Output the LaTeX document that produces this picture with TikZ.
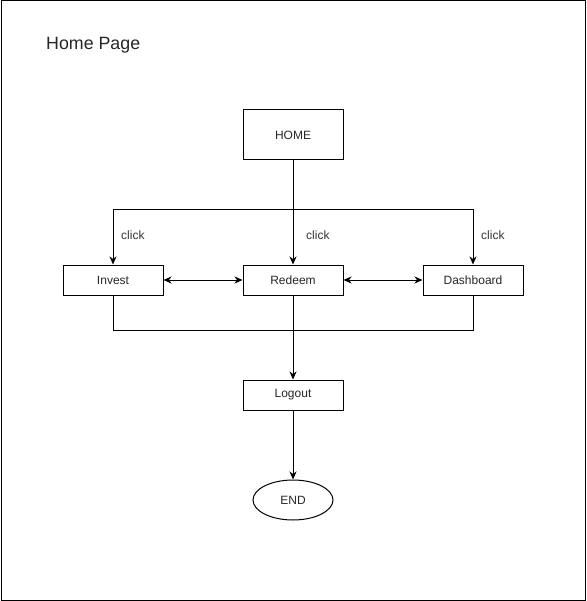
\documentclass[tikz,border=0pt]{standalone}
\usepackage{fontspec}
\setmainfont{Liberation Sans}
\usetikzlibrary{arrows.meta,shapes.geometric}
\begin{document}
\begin{tikzpicture}[x=1pt,y=-1pt,
  every node/.style={font=\fontsize{12}{14}\selectfont, text=black!85},
  box/.style={draw, line width=1pt, minimum width=100pt, inner sep=0pt},
  oval/.style={draw, ellipse, line width=1pt, minimum width=80pt, minimum height=40pt, inner sep=0pt},
  tip/.tip={Stealth[length=8pt,width=7pt,inset=2.5pt]},
  link/.style={line width=1pt, -tip},
  both/.style={line width=1pt, tip-tip},
  lbl/.style={font=\fontsize{12}{14}\selectfont, text=black!80, inner sep=0pt}]
  \useasboundingbox (0,0) rectangle (586,601);
  % page frame
  \draw[line width=1pt] (1,1) rectangle (585,600);

  \node[anchor=west, inner sep=0pt, font=\fontsize{17.8}{20}\selectfont, text=black!85] (title) at (46,45) {Home Page};

  \node[box, minimum height=50pt] (home) at (293,135) {HOME};
  \node[box, minimum height=30pt] (invest) at (113,280) {Invest};
  \node[box, minimum height=30pt] (redeem) at (293,280) {Redeem};
  \node[box, minimum height=30pt] (dash) at (473,280) {Dashboard};
  \node[box, minimum height=30pt] (logout) at (293,395) {Logout};
  \node[oval] (end) at (293,500) {END};

  % branches from HOME
  \draw[link] (home.south) -- (redeem.north);
  \draw[link] (home.south) |- (113,210) -- (invest.north);
  \draw[link] (home.south) |- (473,210) -- (dash.north);
  \node[lbl, anchor=west] (c1) at (121,235) {click};
  \node[lbl, anchor=west] (c2) at (306,235) {click};
  \node[lbl, anchor=west] (c3) at (481,235) {click};

  % lateral navigation
  \draw[both] (invest.east) -- (redeem.west);
  \draw[both] (redeem.east) -- (dash.west);

  % paths to logout
  \draw[line width=1pt] (invest.south) |- (293,330);
  \draw[line width=1pt] (dash.south) |- (293,330);
  \draw[link] (redeem.south) -- (logout.north);
  \draw[link] (logout.south) -- (end.north);
\end{tikzpicture}
\end{document}
